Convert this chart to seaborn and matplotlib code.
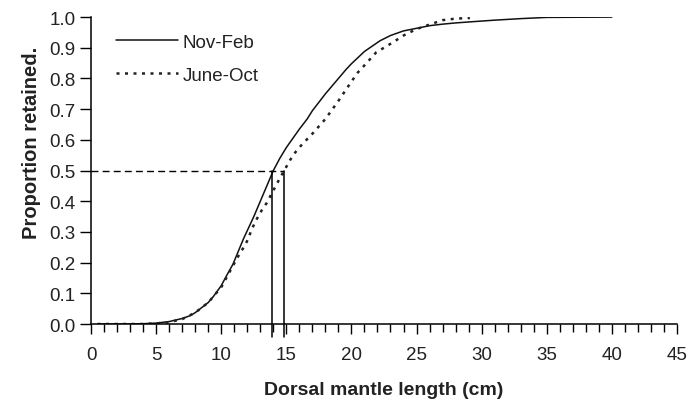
import numpy as np
import pandas as pd
import seaborn as sns
import matplotlib.pyplot as plt

# Nov-Feb selection curve (solid)
nov_x = [0.5, 1, 2, 3, 4, 5, 6, 7, 7.6, 8, 9, 9.4, 10, 10.4, 10.9, 11.7, 12.5, 13, 13.5,
         14, 14.5, 15, 16, 16.6, 17, 18, 19, 19.6, 20, 21, 22.2, 23, 24, 25.3, 26, 27, 28,
         29.3, 31, 33, 35, 40]
nov_y = [0.0, 0.0, 0.0, 0.0, 0.001, 0.003, 0.008, 0.018, 0.027, 0.037, 0.07, 0.09, 0.125,
         0.157, 0.195, 0.277, 0.35, 0.40, 0.45, 0.5, 0.54, 0.575, 0.635, 0.668, 0.695,
         0.75, 0.80, 0.83, 0.848, 0.888, 0.923, 0.94, 0.955, 0.966, 0.972, 0.977, 0.981,
         0.985, 0.99, 0.995, 0.999, 1.0]

# June-Oct selection curve (dotted)
jun_x = [0.5, 1, 2, 3, 4, 5, 6, 7, 8, 9, 10, 10.9, 11.4, 11.8, 12.1, 12.3, 12.7, 13.1,
         13.5, 14, 14.5, 14.9, 15.3, 15.7, 16.2, 17, 18, 19, 20, 20.5, 21.2, 21.9,
         23.2, 24, 25, 26.3, 27, 28, 29.1]
jun_y = [0.0, 0.0, 0.0, 0.0, 0.0, 0.002, 0.006, 0.016, 0.037, 0.07, 0.12, 0.19, 0.228,
         0.255, 0.28, 0.305, 0.34, 0.37, 0.395, 0.435, 0.475, 0.505, 0.535, 0.56,
         0.585, 0.62, 0.668, 0.727, 0.79, 0.82, 0.852, 0.885, 0.918, 0.94, 0.961,
         0.98, 0.99, 0.995, 0.997]

# length at 50% retention for each period
l50 = [13.9, 14.85]
p50 = 0.5

sns.set_style("ticks")
plt.rcParams["font.family"] = ["Liberation Sans", "DejaVu Sans"]

fig = plt.figure(figsize=(6.9, 4.02), dpi=100)
ax = fig.add_axes([0.132, 0.1915, 0.849, 0.7635])

nov = pd.DataFrame({"x": nov_x, "y": nov_y})
jun = pd.DataFrame({"x": jun_x, "y": jun_y})
sns.lineplot(data=nov, x="x", y="y", ax=ax, color="#111111", lw=1.1, label="Nov-Feb")
sns.lineplot(data=jun, x="x", y="y", ax=ax, color="#222222", lw=1.8,
             linestyle=(0, (1.2, 2.2)), label="June-Oct")

# 50% retention markers
ax.plot([0, max(l50)], [p50, p50], color="black", lw=1.0, linestyle=(0, (5, 3)))
for v in l50:
    ax.plot([v, v], [p50, -0.042], color="black", lw=1.1, clip_on=False)

ax.set_xlim(0, 45)
ax.set_ylim(0, 1.0)
ax.set_xticks(np.arange(0, 46, 5))
ax.set_xticks(np.arange(0, 46, 1), minor=True)
ax.set_yticks(np.arange(0, 1.01, 0.1))
ax.set_yticklabels([f"{t:.1f}" for t in np.arange(0, 1.01, 0.1)])
ax.tick_params(axis="both", which="major", direction="out", width=1,
               color="black", labelsize=13.5, labelcolor="#222222")
ax.tick_params(axis="x", which="major", length=7, pad=9)
ax.tick_params(axis="x", which="minor", direction="out", length=6, width=1, color="black")
ax.tick_params(axis="y", which="major", length=8, pad=3)
for s in ["left", "bottom"]:
    ax.spines[s].set_color("black")
    ax.spines[s].set_linewidth(1.1)
sns.despine(ax=ax)

ax.set_xlabel("Dorsal mantle length (cm)", fontsize=14, fontweight="bold",
              color="#222222", labelpad=13)
ax.set_ylabel("Proportion retained.", fontsize=14.5, fontweight="bold",
              color="#222222")
ax.yaxis.set_label_coords(-0.085, 0.595)

leg = ax.legend(loc="upper left", frameon=False, fontsize=13.5, handlelength=3.3,
                handletextpad=0.25, labelspacing=0.85, borderaxespad=0,
                bbox_to_anchor=(0.03, 0.97))
for t in leg.get_texts():
    t.set_color("#222222")

fig.savefig("out.png", dpi=100)
